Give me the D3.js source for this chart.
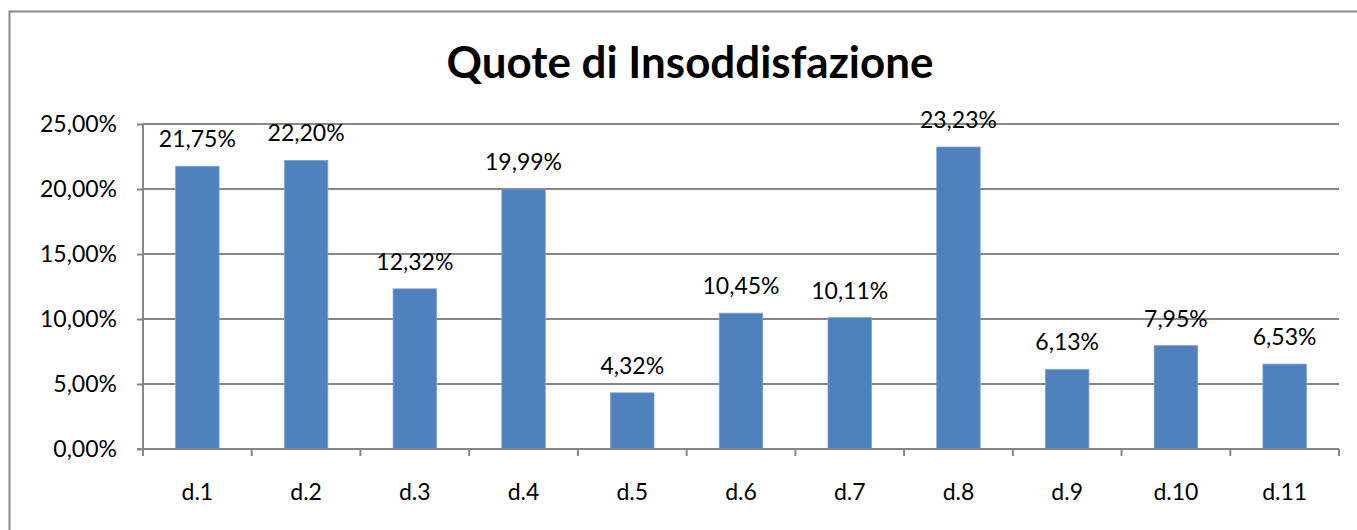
<!DOCTYPE html>
<html><head><meta charset="utf-8">
<script src="https://cdn.jsdelivr.net/npm/d3@7"></script>
<style>html,body{margin:0;padding:0;background:#fff;}svg{display:block;}</style>
</head><body>
<script>
const categories = ["d.1","d.2","d.3","d.4","d.5","d.6","d.7","d.8","d.9","d.10","d.11"];
const values = [21.75,22.20,12.32,19.99,4.32,10.45,10.11,23.23,6.13,7.95,6.53];
const yTicks = [0,5,10,15,20,25];
const title = "Quote di Insoddisfazione";

const W = 1357, H = 530;
const m = {left:143, right:W-1339, top:124, bottom:H-449};
const fmt = v => v.toFixed(2).replace(".", ",") + "%";
const FONT = "Lato, 'Open Sans', sans-serif";

const svg = d3.select("body").append("svg").attr("width", W).attr("height", H);
svg.append("rect").attr("x",9.5).attr("y",11.5).attr("width",W+20).attr("height",H+20)
  .attr("fill","#fff").attr("stroke","#878787").attr("stroke-width",2);

const x = d3.scaleBand().domain(categories).range([m.left, W-m.right]).paddingInner(0.6).paddingOuter(0.3);
const y = d3.scaleLinear().domain([0,25]).range([H-m.bottom, m.top]);

// gridlines
svg.append("g").selectAll("line").data(yTicks.filter(t=>t>0)).join("line")
  .attr("x1", m.left).attr("x2", W-m.right)
  .attr("y1", d=>y(d)).attr("y2", d=>y(d))
  .attr("stroke","#868686").attr("stroke-width",2);

// y axis
const yAxis = svg.append("g").attr("transform",`translate(${m.left},0)`)
  .call(d3.axisLeft(y).tickValues(yTicks).tickFormat(fmt).tickSize(6).tickPadding(20));
yAxis.select(".domain").attr("stroke","#868686").attr("stroke-width",2).attr("d",`M0,${m.top}V${H-m.bottom}`);
yAxis.selectAll(".tick line").attr("stroke","#868686").attr("stroke-width",2);
yAxis.selectAll("text").attr("font-family",FONT).attr("font-size",23).attr("fill","#000");

// bars
svg.append("g").selectAll("rect").data(values).join("rect")
  .attr("x",(d,i)=>x(categories[i])).attr("width",x.bandwidth())
  .attr("y",d=>y(d)).attr("height",d=>y(0)-y(d))
  .attr("fill","#4F81BD").attr("stroke","#7FA3D0").attr("stroke-width",0.8);

// x axis
const xBoundaries = d3.range(categories.length+1).map(i => m.left + i*(W-m.left-m.right)/categories.length);
const xa = svg.append("g");
xa.append("line").attr("x1",m.left-6).attr("x2",W-m.right).attr("y1",y(0)).attr("y2",y(0))
  .attr("stroke","#868686").attr("stroke-width",2);
xa.selectAll("line.t").data(xBoundaries).join("line").attr("class","t")
  .attr("x1",d=>d).attr("x2",d=>d).attr("y1",y(0)).attr("y2",y(0)+7)
  .attr("stroke","#868686").attr("stroke-width",2);
xa.selectAll("text").data(categories).join("text")
  .attr("x",d=>x(d)+x.bandwidth()/2).attr("y",y(0)+51)
  .attr("text-anchor","middle").attr("font-family",FONT).attr("font-size",23).attr("fill","#000")
  .text(d=>d);

// data labels
svg.append("g").selectAll("text").data(values).join("text")
  .attr("x",(d,i)=>x(categories[i])+x.bandwidth()/2).attr("y",d=>y(d)-19)
  .attr("text-anchor","middle").attr("font-family",FONT).attr("font-size",23).attr("fill","#000")
  .text(fmt);

// title
const t = svg.append("text").attr("x",690).attr("y",78).attr("text-anchor","middle")
  .attr("font-family",FONT).attr("font-weight","bold").attr("font-size",44).attr("fill","#000").text(title);
const tw = t.node().getComputedTextLength();
t.attr("font-size", 44*487/tw);
</script>
</body></html>
